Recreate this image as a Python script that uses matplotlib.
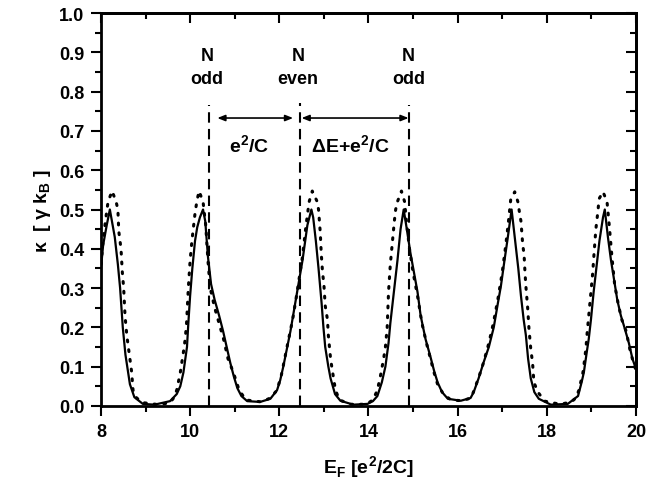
import matplotlib
matplotlib.use('Agg')
import matplotlib.pyplot as plt
from matplotlib.ticker import MultipleLocator

plt.rcParams['font.family'] = ['Liberation Sans', 'DejaVu Sans']
plt.rcParams['font.weight'] = 'bold'
plt.rcParams['mathtext.fontset'] = 'custom'
plt.rcParams['mathtext.rm'] = 'Liberation Sans'
plt.rcParams['mathtext.bf'] = 'Liberation Sans:bold'

# solid curve
solid_x = [8.00, 8.05, 8.13, 8.20, 8.31, 8.38, 8.43, 8.49, 8.55, 8.65, 8.75, 8.94, 9.20,
           9.55, 9.70, 9.78, 9.85, 9.93, 9.96, 10.00, 10.05, 10.11, 10.16, 10.22, 10.29,
           10.34, 10.40, 10.47, 10.55, 10.65, 10.74, 10.82, 10.90, 10.98, 11.06, 11.15,
           11.28, 11.57, 11.80, 11.95, 12.02, 12.09, 12.17, 12.25, 12.31, 12.40, 12.52,
           12.63, 12.72, 12.76, 12.82, 12.88, 12.95, 12.99, 13.03, 13.10, 13.15, 13.25,
           13.37, 13.66, 13.98, 14.10, 14.20, 14.30, 14.38, 14.45, 14.49, 14.57, 14.65,
           14.72, 14.79, 14.86, 14.94, 15.02, 15.10, 15.17, 15.28, 15.39, 15.47, 15.55,
           15.65, 15.78, 16.07, 16.29, 16.36, 16.47, 16.58, 16.70, 16.81, 16.90, 16.97,
           17.05, 17.12, 17.21, 17.30, 17.36, 17.42, 17.48, 17.53, 17.58, 17.64, 17.72,
           17.82, 18.09, 18.47, 18.70, 18.78, 18.83, 18.90, 18.94, 18.99, 19.05, 19.10,
           19.18, 19.26, 19.30, 19.37, 19.44, 19.51, 19.58, 19.66, 19.74, 19.84, 19.92, 20.00]
solid_y = [0.35, 0.41, 0.46, 0.50, 0.43, 0.36, 0.30, 0.20, 0.13, 0.055, 0.022, 0.005, 0.003,
           0.012, 0.03, 0.05, 0.085, 0.15, 0.21, 0.28, 0.35, 0.42, 0.455, 0.48, 0.50,
           0.47, 0.38, 0.31, 0.27, 0.23, 0.19, 0.15, 0.11, 0.075, 0.045, 0.025,
           0.012, 0.01, 0.018, 0.04, 0.065, 0.10, 0.145, 0.19, 0.23, 0.29, 0.37,
           0.46, 0.50, 0.48, 0.42, 0.35, 0.26, 0.20, 0.15, 0.10, 0.07, 0.03,
           0.013, 0.003, 0.005, 0.012, 0.025, 0.06, 0.10, 0.16, 0.21, 0.29, 0.37,
           0.45, 0.50, 0.45, 0.39, 0.34, 0.29, 0.23, 0.17, 0.125, 0.09, 0.06,
           0.035, 0.018, 0.013, 0.02, 0.035, 0.07, 0.11, 0.15, 0.20, 0.26, 0.305,
           0.37, 0.425, 0.50, 0.41, 0.35, 0.28, 0.22, 0.18, 0.12, 0.07, 0.035,
           0.018, 0.003, 0.005, 0.025, 0.06, 0.085, 0.14, 0.17, 0.22, 0.29, 0.34,
           0.42, 0.48, 0.50, 0.43, 0.37, 0.32, 0.27, 0.23, 0.20, 0.16, 0.12, 0.094]

# dotted curve
dot_x = [8.00, 8.05, 8.10, 8.16, 8.25, 8.34, 8.38, 8.40, 8.45, 8.48, 8.51, 8.54, 8.58, 8.65,
         8.69, 8.72, 8.80, 8.95, 9.30, 9.55, 9.63, 9.70, 9.78, 9.85, 9.89, 9.92, 9.94, 9.96,
         10.00, 10.04, 10.07, 10.11, 10.15, 10.20, 10.29, 10.35, 10.40, 10.45, 10.55, 10.65,
         10.75, 10.85, 10.97, 11.10, 11.25, 11.60, 11.80, 11.95, 12.05, 12.12, 12.20, 12.30,
         12.40, 12.52, 12.60, 12.67, 12.74, 12.85, 12.88, 12.90, 12.92, 12.94, 12.97, 13.00,
         13.03, 13.08, 13.10, 13.15, 13.19, 13.26, 13.35, 13.60, 13.95, 14.10, 14.20, 14.27,
         14.34, 14.38, 14.42, 14.45, 14.49, 14.54, 14.58, 14.61, 14.65, 14.74, 14.81, 14.86,
         14.92, 15.00, 15.10, 15.20, 15.30, 15.39, 15.47, 15.55, 15.68, 15.85, 16.10, 16.30,
         16.37, 16.48, 16.58, 16.70, 16.80, 16.90, 17.00, 17.08, 17.14, 17.19, 17.28, 17.35,
         17.39, 17.42, 17.44, 17.46, 17.49, 17.51, 17.53, 17.57, 17.60, 17.64, 17.68, 17.71,
         17.80, 17.95, 18.30, 18.55, 18.65, 18.72, 18.81, 18.85, 18.88, 18.90, 18.94, 18.99,
         19.03, 19.06, 19.10, 19.15, 19.17, 19.26, 19.35, 19.40, 19.46, 19.52, 19.60, 19.68,
         19.78, 19.86, 19.93, 20.00]
dot_y = [0.36, 0.42, 0.47, 0.52, 0.547, 0.52, 0.50, 0.445, 0.40, 0.34, 0.30, 0.23, 0.18, 0.12,
         0.085, 0.04, 0.02, 0.008, 0.003, 0.008, 0.02, 0.04, 0.085, 0.137, 0.17, 0.21, 0.255, 0.30,
         0.37, 0.42, 0.45, 0.49, 0.52, 0.547, 0.52, 0.46, 0.37, 0.30, 0.25, 0.21,
         0.17, 0.12, 0.085, 0.04, 0.015, 0.01, 0.02, 0.04, 0.08, 0.12, 0.165, 0.22,
         0.29, 0.38, 0.46, 0.52, 0.547, 0.52, 0.50, 0.47, 0.44, 0.39, 0.34, 0.31,
         0.255, 0.22, 0.18, 0.12, 0.09, 0.04, 0.015, 0.004, 0.004, 0.015, 0.04, 0.077,
         0.12, 0.15, 0.20, 0.29, 0.36, 0.42, 0.47, 0.50, 0.52, 0.547, 0.52, 0.46,
         0.40, 0.34, 0.28, 0.21, 0.16, 0.12, 0.085, 0.055, 0.03, 0.015, 0.013, 0.02,
         0.04, 0.075, 0.11, 0.16, 0.21, 0.27, 0.34, 0.41, 0.47, 0.525, 0.545, 0.52,
         0.49, 0.47, 0.44, 0.41, 0.385, 0.34, 0.305, 0.25, 0.196, 0.145, 0.11, 0.06,
         0.035, 0.012, 0.004, 0.01, 0.02, 0.04, 0.085, 0.12, 0.15, 0.18, 0.23, 0.29,
         0.34, 0.39, 0.45, 0.50, 0.527, 0.545, 0.52, 0.46, 0.38, 0.31, 0.26, 0.22,
         0.19, 0.145, 0.115, 0.09]

# charge-state markers
vline_x = [10.43, 12.47, 14.92]
vline_top = [0.765, 0.77, 0.765]
n_labels = ['N\nodd', 'N\neven', 'N\nodd']
n_label_x = [10.38, 12.42, 14.90]

fig = plt.figure(figsize=(6.47, 4.89), dpi=100)
ax = fig.add_axes([0.156, 0.168, 0.827, 0.803])

ax.plot(solid_x, solid_y, color='black', lw=1.6)
ax.plot(dot_x, dot_y, color='black', lw=2.2, linestyle=(0, (0.6, 2.6)),
        dash_capstyle='round')

for x, top in zip(vline_x, vline_top):
    ax.plot([x, x], [0, top], color='black', lw=1.5, linestyle=(0, (5, 3)))

for x, lab in zip(n_label_x, n_labels):
    ax.text(x, 0.862, lab, ha='center', va='center', fontsize=13, fontweight='bold',
            linespacing=1.45)

arrow = dict(arrowstyle='<|-|>,head_length=0.45,head_width=0.18', color='black', lw=1.2,
             shrinkA=0, shrinkB=0)
ax.annotate('', xy=(12.31, 0.733), xytext=(10.61, 0.733), arrowprops=arrow)
ax.annotate('', xy=(14.90, 0.733), xytext=(12.50, 0.733), arrowprops=arrow)
ax.text(11.33, 0.665, r'e$^{\mathbf{2}}$/C', ha='center', va='center', fontsize=14,
        fontweight='bold')
ax.text(13.60, 0.665, r'ΔE+e$^{\mathbf{2}}$/C', ha='center', va='center', fontsize=14,
        fontweight='bold')

ax.set_xlim(8, 20)
ax.set_ylim(0, 1.0)
ax.xaxis.set_major_locator(MultipleLocator(2))
ax.xaxis.set_minor_locator(MultipleLocator(1))
ax.yaxis.set_major_locator(MultipleLocator(0.1))
ax.yaxis.set_minor_locator(MultipleLocator(0.05))
ax.yaxis.set_major_formatter(matplotlib.ticker.FormatStrFormatter('%.1f'))

ax.tick_params(which='both', direction='out', top=False, right=False, width=1.5,
               labelsize=13, pad=5)
ax.tick_params(which='major', length=7)
ax.tick_params(which='minor', length=4)
for lab in ax.get_xticklabels() + ax.get_yticklabels():
    lab.set_fontweight('bold')

# inward ticks on the mirror axes
sec_y = ax.secondary_yaxis('right')
sec_y.yaxis.set_major_locator(MultipleLocator(0.1))
sec_y.yaxis.set_minor_locator(MultipleLocator(0.05))
sec_y.tick_params(which='both', direction='in', width=1.5, labelright=False)
sec_y.tick_params(which='major', length=7)
sec_y.tick_params(which='minor', length=4)
sec_x = ax.secondary_xaxis('top')
sec_x.xaxis.set_major_locator(MultipleLocator(2))
sec_x.xaxis.set_minor_locator(MultipleLocator(1))
sec_x.tick_params(which='both', direction='in', width=1.5, labeltop=False)
sec_x.tick_params(which='major', length=7)
sec_x.tick_params(which='minor', length=4)
for s in list(ax.spines.values()) + [sec_y.spines['right'], sec_x.spines['top']]:
    s.set_linewidth(2)

ax.set_xlabel(r'E$_{\mathrm{F}}$ [e$^{\mathbf{2}}$/2C]', fontsize=14, fontweight='bold',
              labelpad=10)
ax.set_ylabel(r'κ  [ γ k$_{\mathbf{B}}$ ]', fontsize=14, fontweight='bold', labelpad=4)

fig.savefig('out.png', dpi=100, facecolor='white')
